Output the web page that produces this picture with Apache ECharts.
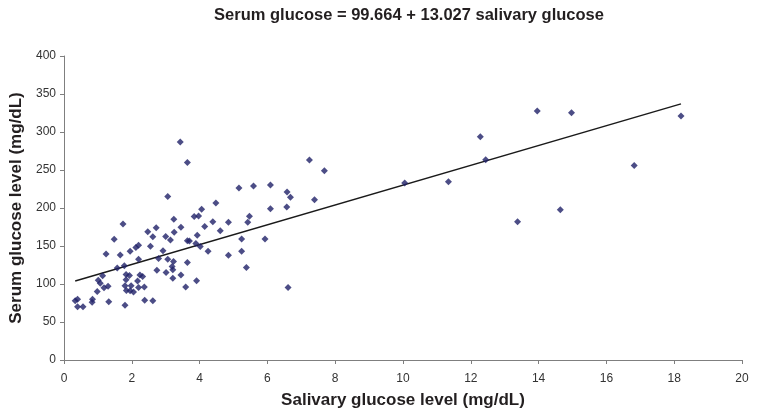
<!DOCTYPE html>
<html>
<head>
<meta charset="utf-8">
<script src="https://cdn.jsdelivr.net/npm/echarts@6/dist/echarts.min.js"></script>
<style>
html,body{margin:0;padding:0;background:#fff;}
#chart{width:757px;height:417px;}
</style>
</head>
<body>
<div id="chart"></div>
<script>
// Salivary glucose (x, mg/dL)
var salivary = [
  0.33, 0.40, 0.40, 0.56, 0.84, 0.83, 0.98, 1.01, 1.07, 1.14,
  1.18, 1.30, 1.32, 1.24, 1.48, 1.57, 1.66, 1.74, 1.78, 1.95,
  1.83, 1.93, 1.83, 1.80, 1.98, 1.84, 1.95, 2.05, 1.80, 2.12,
  2.20, 2.20, 2.17, 2.24, 2.32, 2.20, 2.37, 2.38, 2.62, 2.47,
  2.72, 2.62, 3.00, 3.14, 3.45, 3.25, 3.64, 3.70, 2.55, 2.92,
  3.89, 4.02, 4.25, 2.79, 3.06, 3.23, 3.64, 2.74, 3.01, 3.19,
  3.21, 3.45, 3.21, 3.91, 3.59, 3.64, 3.06, 4.06, 3.84, 3.97,
  3.24, 4.15, 4.39, 3.43, 3.93, 4.48, 5.16, 5.59, 6.09, 6.58,
  6.68, 6.09, 6.57, 4.85, 5.47, 5.42, 4.61, 5.24, 5.93, 4.85,
  5.24, 5.38, 6.61, 7.39, 7.24, 7.68, 10.05, 11.34, 12.28, 12.44,
  13.38, 13.96, 14.64, 14.97, 16.82, 18.20
];
// Serum glucose (y, mg/dL)
var serum = [
  78, 80, 70, 70, 80, 76, 90, 105, 101, 111,
  95, 97, 76.5, 139.5, 159, 121, 138, 179, 124, 143,
  112.6, 111.2, 105.7, 97.8, 97.8, 91.6, 91.2, 89.5, 72, 148,
  151, 132.6, 104, 112, 109.8, 95.4, 96, 78.7, 77.8, 168.8,
  174, 162.2, 162.5, 158, 174.6, 168, 157, 156.6, 149.7, 143.6,
  153.3, 149.2, 143, 133.4, 132.6, 129.5, 128.2, 118.2, 115, 122.9,
  118.6, 112, 107.7, 104.3, 96.2, 260, 215, 198.4, 188.7, 189.6,
  185.2, 175.5, 182, 287, 164, 206.7, 226.4, 229, 230.4, 221,
  214, 199, 201.4, 181.3, 189, 181.3, 170.2, 159.3, 159.3, 137.9,
  143, 121.6, 95.4, 211, 263, 249, 233, 234.6, 293.8, 263.6,
  182, 327.6, 197.8, 325.4, 256, 321
];
// Regression line end points
var trendX = [0.33, 18.2];
var trendY = [104, 337];

var xTicks = {min: 0, max: 20, step: 2};
var yTicks = {min: 0, max: 400, step: 50};

var titleText = 'Serum glucose = 99.664 + 13.027 salivary glucose';
var xName = 'Salivary glucose level (mg/dL)';
var yName = 'Serum glucose level (mg/dL)';

var pts = salivary.map(function(x, i){ return [x, serum[i]]; });
var trend = trendX.map(function(x, i){ return [x, trendY[i]]; });

var fontTick = '"Liberation Sans", Arial, sans-serif';
var fontBold = '"Liberation Sans", Arial, sans-serif';

var chart = echarts.init(document.getElementById('chart'), null, {renderer: 'canvas'});
chart.setOption({
  animation: false,
  backgroundColor: '#ffffff',
  title: {
    text: titleText,
    left: 404,
    top: 2,
    textAlign: 'center',
    textStyle: {fontFamily: fontBold, fontSize: 16.5, fontWeight: 'bold', color: '#231f20'}
  },
  grid: {left: 64, right: 15, top: 56, bottom: 57, containLabel: false},
  xAxis: {
    type: 'value',
    min: xTicks.min, max: xTicks.max, interval: xTicks.step,
    name: xName,
    nameLocation: 'middle',
    nameGap: 32,
    nameTextStyle: {fontFamily: fontBold, fontSize: 17, fontWeight: 'bold', color: '#231f20'},
    axisLine: {show: true, lineStyle: {color: '#7f7f7f', width: 1}},
    axisTick: {show: true, inside: false, length: 4, lineStyle: {color: '#7f7f7f'}},
    axisLabel: {fontFamily: fontTick, fontSize: 12, color: '#333333', margin: 13},
    splitLine: {show: false}
  },
  yAxis: {
    type: 'value',
    min: yTicks.min, max: yTicks.max, interval: yTicks.step,
    name: yName,
    nameLocation: 'middle',
    nameGap: 39,
    nameRotate: 90,
    nameTextStyle: {fontFamily: fontBold, fontSize: 17, fontWeight: 'bold', color: '#231f20'},
    axisLine: {show: true, lineStyle: {color: '#7f7f7f', width: 1}},
    axisTick: {show: true, inside: false, length: 4, lineStyle: {color: '#7f7f7f'}},
    axisLabel: {fontFamily: fontTick, fontSize: 12, color: '#333333', margin: 8},
    splitLine: {show: false}
  },
  series: [
    {
      type: 'scatter',
      data: pts,
      symbol: 'diamond',
      symbolSize: 7,
      itemStyle: {color: '#1f2168'},
      z: 3
    },
    {
      type: 'line',
      data: trend,
      symbol: 'none',
      lineStyle: {color: '#1a1a1a', width: 1.5},
      z: 2
    }
  ]
});
</script>
</body>
</html>
